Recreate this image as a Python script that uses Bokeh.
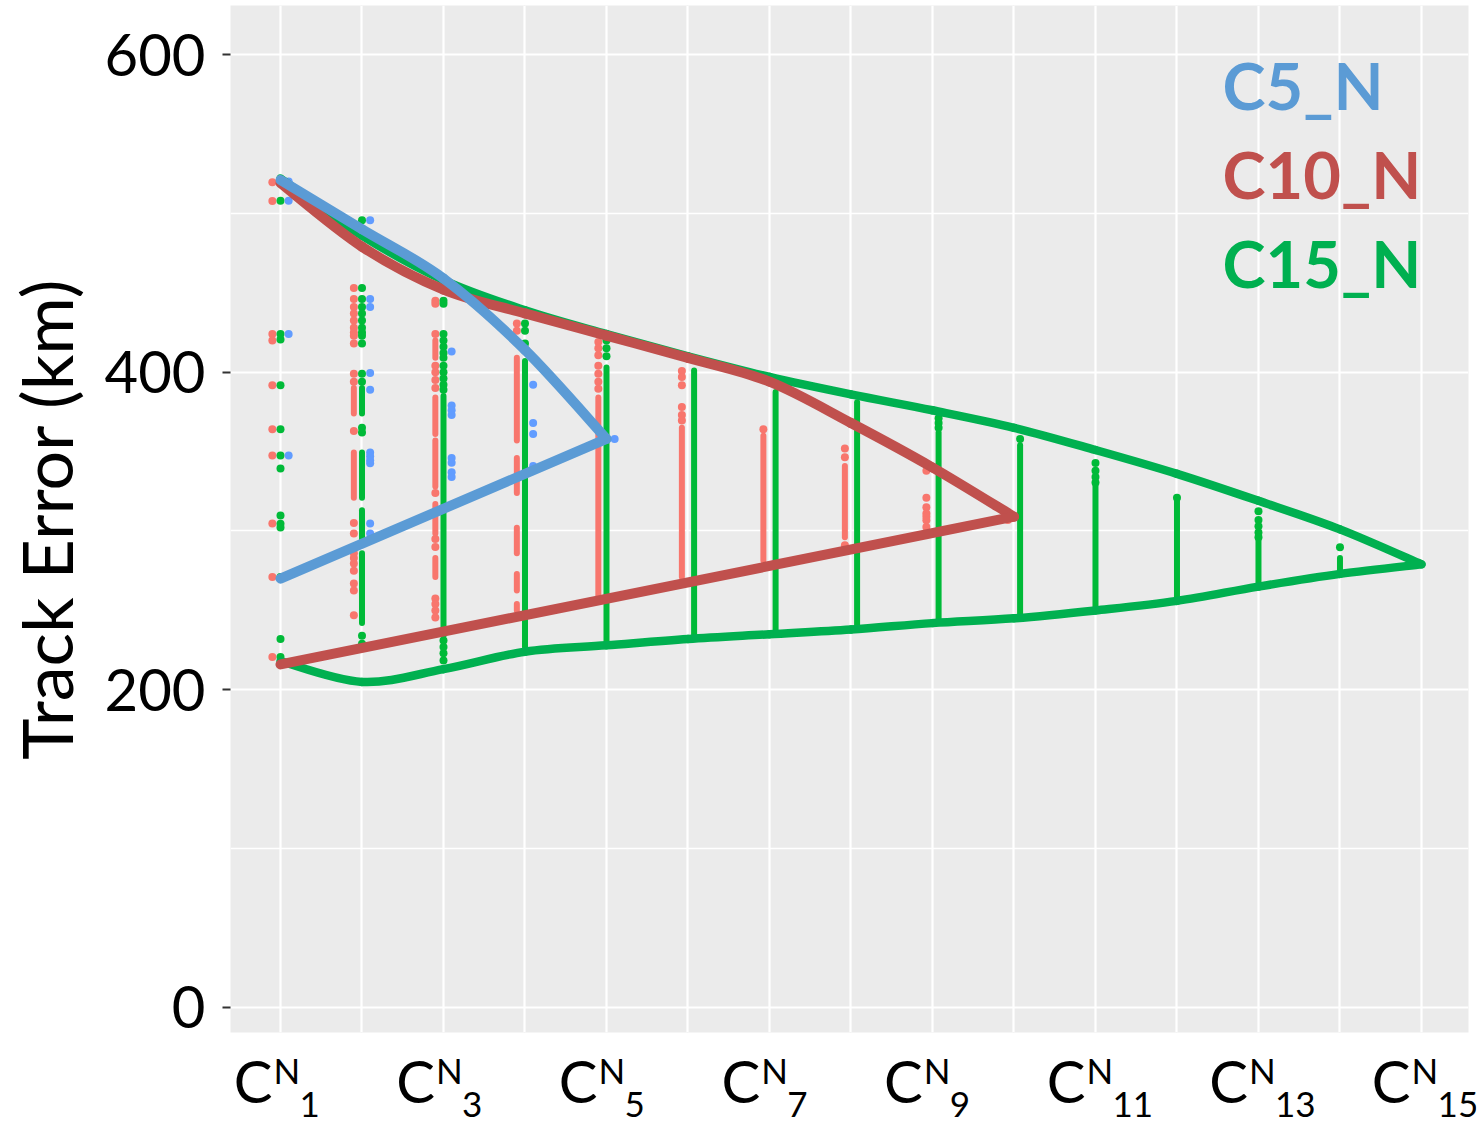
from bokeh.plotting import figure
from bokeh.models import FixedTicker, Grid, Label, Range1d
from bokeh.layouts import column
from bokeh.core.properties import value
from bokeh.embed import file_html
from bokeh.resources import INLINE

# ---------------- data ----------------
categories = list(range(1, 16))
tick_labels_shown = [1, 3, 5, 7, 9, 11, 13, 15]
y_ticks = [0, 200, 400, 600]
y_minor = [100, 300, 500]

# group order (as in the original factor order)
series_names = ["C10_N", "C15_N", "C5_N"]
series_len = {"C10_N": 10, "C15_N": 15, "C5_N": 5}

# summary curves: upper values at x=1..n, lower return values
c5_upper = [521, 490, 459, 414, 358]
c5_lower = [270]                       # value at x=1 (straight return)
c10_upper = [519, 479, 452, 437, 423, 409, 394, 368, 340, 309]
c10_lower = [216]                      # value at x=1 (straight return)
c15_upper = [522, 486, 458, 439, 424, 410, 397, 386, 376, 365, 351, 336, 319, 301, 279]
c15_lower = [218, 205, 213, 224, 228, 232, 235, 238, 242, 245, 250, 256, 265, 273]  # x=1..14

# individual (isolated) points per category
c10_dots = {
    1: [519.5, 507.7, 424, 420, 391.7, 364, 347.6, 304.8, 271, 220.6],
    2: [453, 446, 441, 437, 432.6, 428, 425, 423, 418, 399, 394, 363, 305, 298.5,
        286, 283, 279.6, 275, 267, 262.6, 247],
    3: [445, 443, 424, 404, 400, 395, 390, 324, 295, 290, 257.5, 254, 250, 245.6],
    4: [430.6, 426],
    5: [419, 415, 410.6, 404, 399, 394, 389.6],
    6: [400.7, 397, 391.7, 378, 373, 369.6],
    7: [364],
    8: [352, 346.5, 291],
    9: [338, 321, 315, 311, 309, 306.7, 302.5],
    10: [309, 307],
}
# dense runs of points per category (low, high)
c10_runs = {
    2: [(374, 390), (321, 349.5)],
    3: [(409, 420), (361, 384), (328, 357), (298.5, 317), (271, 283)],
    4: [(357, 409), (324, 346), (286, 302), (262.6, 273), (250, 254)],
    5: [(258, 384)],
    6: [(271, 365)],
    7: [(281.5, 360)],
    8: [(296, 341)],
}

c15_dots = {
    1: [521, 508, 424, 420.6, 391.7, 364, 347.6, 339.4, 309.8, 304.6, 302.2, 271, 232, 220.6],
    2: [495.6, 453, 446, 441, 437, 432.6, 428, 425, 423, 418, 399, 394, 365, 362, 234, 229],
    3: [445, 443, 424, 420, 416, 412, 409, 404, 400, 396, 392, 389, 235.5, 231, 227, 223, 218.5],
    4: [430.6, 426, 418],
    5: [420, 415, 410],
    9: [371, 368, 365],
    10: [358],
    11: [342.8, 338, 334, 330.6],
    12: [321],
    13: [312.5, 307, 303, 299, 296],
    14: [289.7],
}
c15_runs = {
    2: [(374, 390), (321, 349.5), (292, 313), (242, 286)],
    3: [(239, 385)],
    4: [(227, 407)],
    5: [(229, 403)],
    6: [(233, 401)],
    7: [(235.5, 387.5)],
    8: [(239, 381)],
    9: [(243.7, 362)],
    10: [(248, 354)],
    11: [(252, 328.7)],
    12: [(258, 319)],
    13: [(267, 294)],
    14: [(275, 283)],
}

c5_dots = {
    1: [520, 508, 424, 347.6],
    2: [495.6, 446, 441, 399.4, 389, 349.5, 347, 344.5, 342.6, 304.7, 298.5],
    3: [413, 379, 376, 373, 346, 343, 337, 334],
    4: [392, 368, 361, 341],
    5: [358],
}
c5_runs = {}

# ---------------- styling ----------------
point_colors = {"C10_N": "#F8766D", "C15_N": "#00BA38", "C5_N": "#619CFF"}
line_colors = {"C10_N": "#C0504D", "C15_N": "#00B050", "C5_N": "#5B9BD5"}
FONT = "Lato"

W = 1471
H_MAIN, H_LAB = 1044, 80
BL, BR, BT, BB = 230, 3, 5, 12
X0, X1 = 0.3865, 15.577
Y0, Y1 = -15.74, 630.85
PX_PER_X = (W - BL - BR) / (X1 - X0)
SCALE_Y = (H_MAIN - BT - BB) / (Y1 - Y0)
BASE_FIX = 0.39  # em: measured shift of the alphabetic baseline of annotation text


def py_to_y(py, size_px=0):
    """page pixel -> data y (main panel), with baseline compensation"""
    return Y1 - (py - BASE_FIX * size_px - BT) / SCALE_Y


def px_to_x(px):
    return X0 + (px - BL) / PX_PER_X


p = figure(width=W, height=H_MAIN, output_backend="svg", toolbar_location=None,
           x_range=Range1d(X0, X1), y_range=Range1d(Y0, Y1),
           x_axis_location=None, min_border_left=BL, min_border_right=BR,
           min_border_top=BT, min_border_bottom=BB)
p.background_fill_color = "#EBEBEB"
p.border_fill_color = "white"
p.outline_line_color = None

# grids
p.ygrid.ticker = FixedTicker(ticks=y_ticks, minor_ticks=y_minor)
p.ygrid.grid_line_color = "white"
p.ygrid.grid_line_width = 2.2
p.ygrid.minor_grid_line_color = "white"
p.ygrid.minor_grid_line_width = 1.6
xg = Grid(dimension=0, ticker=FixedTicker(ticks=categories), grid_line_color="white",
          grid_line_width=2.2)
p.add_layout(xg)

# y axis
ya = p.yaxis[0]
ya.ticker = FixedTicker(ticks=y_ticks, minor_ticks=[])
ya.axis_line_color = None
ya.major_tick_out = 8
ya.major_tick_in = 0
ya.major_tick_line_width = 2
ya.major_tick_line_color = "#333333"
ya.minor_tick_line_color = None
ya.major_label_text_font = FONT
ya.major_label_text_font_size = "58px"
ya.major_label_text_color = "black"
ya.major_label_standoff = 17
ya.axis_label = "Track Error (km)"
ya.axis_label_text_font = FONT
ya.axis_label_text_font_size = "70px"
ya.axis_label_text_font_style = "normal"
ya.axis_label_text_color = "black"
ya.axis_label_standoff = 14

# dodge positions
DODGE_W = 0.3


def dodge(name, c):
    present = [g for g in series_names if c <= series_len[g]]
    n = len(present)
    i = present.index(name)
    return c + (i - (n - 1) / 2) * DODGE_W / n


point_data = {"C10_N": (c10_dots, c10_runs), "C15_N": (c15_dots, c15_runs),
              "C5_N": (c5_dots, c5_runs)}

for name in series_names:
    dots, runs = point_data[name]
    xs, ys = [], []
    for c, vals in dots.items():
        for v in vals:
            xs.append(dodge(name, c))
            ys.append(v)
    p.scatter(xs, ys, size=8, marker="circle", fill_color=point_colors[name],
              line_color=None)
    sx, s0, s1 = [], [], []
    for c, rr in runs.items():
        for lo, hi in rr:
            sx.append(dodge(name, c))
            s0.append(lo)
            s1.append(hi)
    if sx:
        p.segment(x0=sx, y0=s0, x1=sx, y1=s1, line_color=point_colors[name],
                  line_width=6, line_cap="round")


def smooth_path(xs, ys, color, width):
    """draw a smooth (Catmull-Rom) curve through the given points as bezier pieces"""
    P = list(zip(xs, ys))
    n = len(P)
    d = {k: [] for k in ("x0", "y0", "x1", "y1", "cx0", "cy0", "cx1", "cy1")}
    for i in range(n - 1):
        q0 = P[i - 1] if i > 0 else P[i]
        q1, q2 = P[i], P[i + 1]
        q3 = P[i + 2] if i + 2 < n else P[i + 1]
        d["x0"].append(q1[0]); d["y0"].append(q1[1])
        d["x1"].append(q2[0]); d["y1"].append(q2[1])
        d["cx0"].append(q1[0] + (q2[0] - q0[0]) / 6)
        d["cy0"].append(q1[1] + (q2[1] - q0[1]) / 6)
        d["cx1"].append(q2[0] - (q3[0] - q1[0]) / 6)
        d["cy1"].append(q2[1] - (q3[1] - q1[1]) / 6)
    p.bezier(**d, line_color=color, line_width=width, line_cap="round")


# summary lines: green, red, blue (blue on top)
smooth_path(categories, c15_upper, line_colors["C15_N"], 8.5)
smooth_path(list(range(15, 0, -1)), [c15_upper[-1]] + c15_lower[::-1],
            line_colors["C15_N"], 8.5)

r_up_x = list(range(1, 11))
smooth_path(r_up_x, c10_upper, line_colors["C10_N"], 10)
p.line([r_up_x[-1], 1], [c10_upper[-1], c10_lower[0]], line_color=line_colors["C10_N"],
       line_width=10, line_cap="round")

b_up_x = list(range(1, 6))
smooth_path(b_up_x, c5_upper, line_colors["C5_N"], 10)
p.line([b_up_x[-1], 1], [c5_upper[-1], c5_lower[0]], line_color=line_colors["C5_N"],
       line_width=10, line_cap="round")

# legend-like coloured titles
legend_names = ["C5_N", "C10_N", "C15_N"]
legend_baselines_px = [110, 199, 288]
LEG_SIZE = 65
for nm, bpx in zip(legend_names, legend_baselines_px):
    p.add_layout(Label(x=px_to_x(1222), y=py_to_y(bpx, LEG_SIZE), text=nm, text_font=FONT,
                       text_font_size=f"{LEG_SIZE}px", text_font_style="bold",
                       text_color=line_colors[nm], text_align="left",
                       text_baseline="alphabetic"))

# ---------------- x tick labels  C^N_k (strip under the panel) ----------------
W2 = 1479
X1_2 = X0 + (W2 - BL) / PX_PER_X
p2 = figure(width=W2, height=H_LAB, output_backend="svg", toolbar_location=None,
            x_range=Range1d(X0, X1_2), y_range=Range1d(0, H_LAB),
            x_axis_location=None, y_axis_location=None,
            min_border_left=BL, min_border_right=0, min_border_top=0, min_border_bottom=0)
p2.background_fill_color = "white"
p2.border_fill_color = "white"
p2.outline_line_color = None
p2.xgrid.visible = False
p2.ygrid.visible = False

PAGE_BOTTOM = H_MAIN + H_LAB


def strip_y(py, size_px):
    # page y inside the strip -> strip data y (strip y=0 at page bottom)
    return PAGE_BOTTOM - (py - BASE_FIX * size_px)


C_SIZE, S_SIZE = 58, 35
n_lab = len(tick_labels_shown)
p2.text(x=tick_labels_shown, y=[strip_y(1103, C_SIZE)] * n_lab,
        text=["C"] * n_lab, text_font=value(FONT),
        text_font_size=value(f"{C_SIZE}px"), text_color="black", text_align="right",
        text_baseline="alphabetic", x_offset=-8)
p2.text(x=tick_labels_shown, y=[strip_y(1083, S_SIZE)] * n_lab,
        text=["N"] * n_lab, text_font=value(FONT),
        text_font_size=value(f"{S_SIZE}px"), text_color="black", text_align="left",
        text_baseline="alphabetic", x_offset=-7)
p2.text(x=tick_labels_shown, y=[strip_y(1118, S_SIZE)] * n_lab,
        text=[str(c) for c in tick_labels_shown], text_font=value(FONT),
        text_font_size=value(f"{S_SIZE}px"), text_color="black", text_align="left",
        text_baseline="alphabetic", x_offset=19)

layout = column(p, p2, spacing=0)
open("out.html", "w").write(file_html(layout, INLINE))
